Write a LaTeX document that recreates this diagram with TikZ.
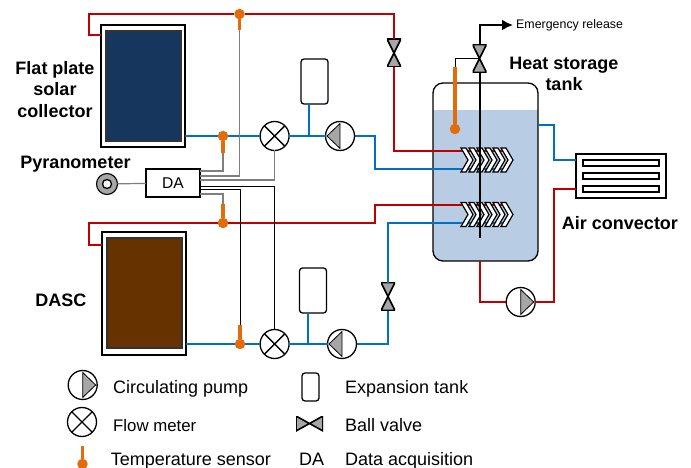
\documentclass[tikz,border=0pt]{standalone}
\usepackage{fontspec}
\usetikzlibrary{arrows.meta}
\setmainfont{Liberation Sans}
\definecolor{redpipe}{HTML}{C00000}
\definecolor{bluepipe}{HTML}{0070C0}
\definecolor{sensorcol}{HTML}{E36C0A}
\definecolor{watercol}{HTML}{B8CCE4}
\definecolor{wirecol}{HTML}{7F7F7F}
\definecolor{valvecol}{HTML}{A6A6A6}
\definecolor{platecol}{HTML}{17365D}
\definecolor{dasccol}{HTML}{663300}
\tikzset{
  hot/.style={draw=redpipe,line width=2pt},
  cold/.style={draw=bluepipe,line width=2pt},
  wire/.style={draw=wirecol,line width=1.2pt},
  thinwire/.style={draw=black,line width=0.8pt},
  stem/.style={draw=sensorcol,line width=3.2pt},
  dot/.style={shape=circle,fill=sensorcol,minimum size=10.5pt,inner sep=0pt,outer sep=0pt},
  round/.style={draw,shape=circle,line width=1.3pt,fill=white,minimum size=29pt,inner sep=0pt,outer sep=0pt},
  pumpl/.style={round,path picture={
    \draw[fill=valvecol,line width=0.8pt] (path picture bounding box.center)++(-13,0)--++(13,12.5)--++(0,-25)--cycle;}},
  pumpr/.style={round,path picture={
    \draw[fill=valvecol,line width=0.8pt] (path picture bounding box.center)++(13,0)--++(-13,12.5)--++(0,-25)--cycle;}},
  meter/.style={round,path picture={
    \draw[line width=1.3pt] (path picture bounding box.north west)--(path picture bounding box.south east);
    \draw[line width=1.3pt] (path picture bounding box.north east)--(path picture bounding box.south west);}},
  valve/.style={shape=rectangle,minimum width=14pt,minimum height=28pt,inner sep=0pt,outer sep=0pt,path picture={
    \draw[fill=valvecol,line width=1.6pt] (path picture bounding box.north west)--(path picture bounding box.north east)
      --(path picture bounding box.south west)--(path picture bounding box.south east)--cycle;}},
  valveh/.style={shape=rectangle,minimum width=27pt,minimum height=15pt,inner sep=0pt,outer sep=0pt,path picture={
    \draw[fill=valvecol,line width=1.6pt] (path picture bounding box.north west)--(path picture bounding box.south west)
      --(path picture bounding box.north east)--(path picture bounding box.south east)--cycle;}},
  exptank/.style={draw,shape=rectangle,rounded corners=3pt,line width=1.3pt,fill=white,minimum width=27pt,minimum height=45pt,inner sep=0pt,outer sep=0pt},
  frame/.style={draw,shape=rectangle,line width=1.4pt,fill=white,inner sep=0pt,outer sep=0pt},
  plate/.style={draw=black!80,shape=rectangle,line width=1.6pt,minimum width=75pt,minimum height=110pt,inner sep=0pt},
  slot/.style={draw,shape=rectangle,line width=1.1pt,minimum width=76pt,minimum height=6pt,inner sep=0pt},
  title/.style={font=\fontsize{18}{21}\selectfont\bfseries,align=center,inner sep=0pt},
  legend/.style={font=\fontsize{18}{21}\selectfont,anchor=base west,inner sep=0pt},
  chevron/.style={draw,fill=white,line width=1.2pt,line join=miter}
}
\begin{document}
\begin{tikzpicture}[x=1pt,y=-1pt]
\useasboundingbox (0,0) rectangle (691,468);

\node [frame,minimum width=84pt,minimum height=122pt,name=coll1] at (143,86){};
\node [plate,fill=platecol,name=plate1] at (143.5,86){};
\node [frame,minimum width=84pt,minimum height=123pt,name=coll2] at (144,293.5){};
\node [plate,fill=dasccol,name=plate2] at (144.5,293){};

\node [draw,shape=rectangle,rounded corners=10pt,line width=1.3pt,minimum width=105pt,minimum height=178pt,inner sep=0pt,outer sep=0pt,
  path picture={\fill[watercol,sharp corners] (path picture bounding box.south west) rectangle ([yshift=-27pt]path picture bounding box.north east);},
  name=tank] at (485.5,172){};

\node [frame,minimum width=90pt,minimum height=44pt,name=conv] at (621,176){};
\node [slot,name=slot1] at (621,163){};
\node [slot,name=slot2] at (621,176){};
\node [slot,name=slot3] at (621,189){};

\node [dot,name=dot1] at (239.5,14){};
\node [dot,name=dot2] at (223,136){};
\node [dot,name=dot3] at (223,223){};
\node [dot,name=dot4] at (240,344){};
\node [dot,name=dot5] at (455,129){};
\coordinate (top1) at (239.5,30);
\coordinate (top2) at (223,153);
\coordinate (top3) at (223,204);
\coordinate (top4) at (240,325);
\coordinate (top5) at (455,67);

\node [meter,name=flow1] at (274.6,136){};
\node [meter,name=flow2] at (274.6,344){};
\node [pumpl,name=pump1] at (340,136){};
\node [pumpl,name=pump2] at (342,344){};
\node [pumpr,name=pump3] at (520.7,302){};
\node [exptank,name=exp1] at (314.5,81.5){};
\node [exptank,name=exp2] at (313,290.5){};
\node [valve,name=valve1] at (394,53){};
\node [valve,name=valve2] at (388,296.5){};
\node [valve,name=valve3] at (479.5,58.5){};

\node [frame,minimum width=54pt,minimum height=28pt,font=\fontsize{15.6}{18}\selectfont,name=da] at (173,183){DA};
\node [draw,shape=circle,line width=1.1pt,fill=valvecol,minimum size=21pt,inner sep=0pt,outer sep=0pt,name=pyra] at (107,184){};
\node [draw,shape=circle,line width=1.3pt,fill=white,minimum size=9pt,inner sep=0pt,name=pyrain] at (107,184){};

\coordinate (hot1in) at (505,151);
\coordinate (cold1in) at (505,169);
\coordinate (hot2in) at (505,205);
\coordinate (cold2in) at (505,223);
\coordinate (coll1hot) at (coll1.west |- 0,35);
\coordinate (coll2hot) at (coll2.west |- 0,245);
\coordinate (coll1cold) at (coll1.east |- 0,136);
\coordinate (coll2cold) at (coll2.east |- 0,344);

\draw[hot] (coll1hot)-|(89,14)--(dot1)--(valve1 |- dot1)--(valve1.north);
\draw[hot] (valve1.south)|-(hot1in);
\draw[hot] (coll2hot)-|(89,223)--(dot3)--(375,223)|-(hot2in);
\draw[hot] (tank.south -| 480,0)|-(pump3.west);
\draw[hot] (pump3.east)-|(554,189)--(conv.west |- 0,189);
\draw[cold] (coll1cold)--(dot2)--(flow1)--(pump1)--(375,136)|-(cold1in);
\draw[cold] (coll2cold)--(dot4)--(flow2)--(pump2)-|(valve2.south);
\draw[cold] (valve2.north)|-(cold2in);
\draw[cold] (tank.east |- 0,125)-|(554,160)--(conv.west |- 0,160);
\draw[cold,line width=1.7pt] (exp1.south -| 309,0)--(309,136);
\draw[cold,line width=1.7pt] (exp2.south -| 307.7,0)--(307.7,344);

\foreach \yc in {160,214.5}
  \foreach \xc in {461,469,477,485,493,501}
    \draw[chevron] (\xc,\yc-12)--(\xc+5,\yc-12)--(\xc+12,\yc)--(\xc+5,\yc+12)--(\xc,\yc+12)--(\xc+7,\yc)--cycle;

\draw[line width=2pt] (479.5,238)--(valve3.south);
\draw[-{Latex[length=11pt,width=11pt]},line width=2pt] (valve3.north)|-(513,25);

\draw[stem] (dot1)--(top1);
\draw[stem] (dot2)--(top2);
\draw[stem] (dot3)--(top3);
\draw[stem] (dot4)--(top4);
\draw[stem] (dot5)--(top5);

\draw[wire] (top1)|-(da.east |- 0,176);
\draw[wire] (top2)|-(da.east |- 0,171);
\draw[wire] (flow1.south)|-(da.east |- 0,180);
\draw[wire] (top3)|-(da.east |- 0,194);
\draw[thinwire] (flow2.north)|-(da.east |- 0,186);
\draw[thinwire] (top4)|-(da.east |- 0,189);
\draw[wire] (pyra)--(da);
\draw[line width=0.8pt] (top5)|-(valve3.center);

\node [title,name=lab1] at (55,89.5){Flat plate\\[0.5pt]solar\\[0.5pt]collector};
\node [title,name=lab2] at (75.5,164){Pyranometer};
\node [title,name=lab3] at (61,300){DASC};
\node [title,name=lab4] at (564,73.5){Heat storage\\tank};
\node [title,name=lab5] at (620,223){Air convector};
\node [font=\fontsize{12.4}{15}\selectfont,anchor=west,inner sep=0pt,name=lab6] at (516,25){Emergency release};

\node [pumpr,name=legpump] at (82.7,385){};
\node [meter,name=legflow] at (82,422){};
\node [dot,name=legdot] at (82.5,464){};
\coordinate (legtop) at (82.5,446);
\draw[stem] (legdot)--(legtop);
\node [exptank,minimum width=17pt,minimum height=28pt,name=legexp] at (310.5,387){};
\node [valveh,name=legvalve] at (309.5,423.5){};

\node [legend,name=leg1] at (113,393){Circulating pump};
\node [legend,font=\fontsize{16.8}{20}\selectfont,name=leg2] at (113,431){Flow meter};
\node [legend,name=leg3] at (110.7,465){Temperature sensor};
\node [legend,name=leg4] at (345,393){Expansion tank};
\node [legend,name=leg5] at (345,431){Ball valve};
\node [legend,name=leg6] at (299,465){DA};
\node [legend,name=leg7] at (345,465){Data acquisition};
\end{tikzpicture}
\end{document}
